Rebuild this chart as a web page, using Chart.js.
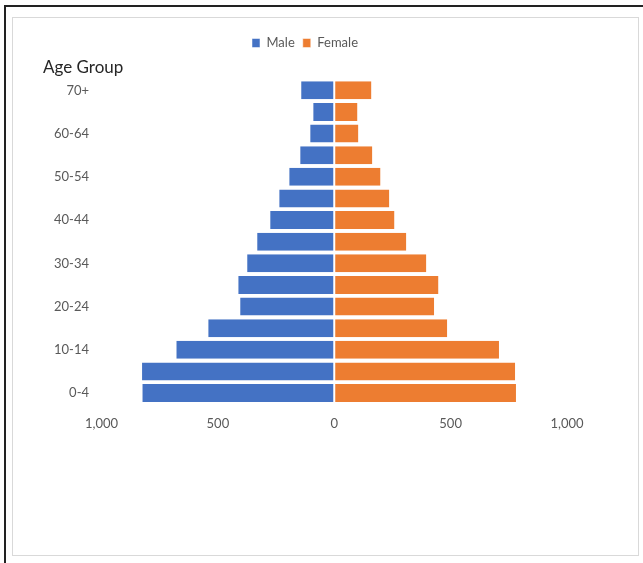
<!DOCTYPE html>
<html>
<head>
<meta charset="utf-8">
<script src="https://cdn.jsdelivr.net/npm/chart.js@4/dist/chart.umd.min.js"></script>
<style>
  html, body { margin: 0; background: #fff; overflow: hidden; }
  #frame { position: absolute; left: 4px; top: 5px; width: 639px; height: 558px;
           border-left: 2px solid #222; border-top: 2px solid #222; }
  #box { position: absolute; left: 12px; top: 17px; width: 625px; height: 537px;
         border: 1px solid #d9d9d9; }
  #wrap { position: absolute; left: 13px; top: 18px; width: 625px; height: 430px; }
</style>
</head>
<body>
<div id="frame"></div>
<div id="box"></div>
<div id="wrap"><canvas id="pyramid"></canvas></div>
<script>
// age groups bottom to top
const ageGroups = ["0-4", "5-9", "10-14", "15-19", "20-24", "25-29", "30-34", "35-39",
                   "40-44", "45-49", "50-54", "55-59", "60-64", "65-69", "70+"];
const male   = [828, 830, 682, 545, 408, 416, 378, 335, 279, 240, 197, 150, 107, 94, 146];
const female = [785, 781, 712, 489, 433, 451, 399, 313, 262, 240, 202, 167, 107, 103, 163];
const xTicks = [-1000, -500, 0, 500, 1000];

const font = "Lato";

new Chart(document.getElementById("pyramid"), {
  type: 'bar',
  data: {
    labels: ageGroups,
    datasets: [{
      label: "Male",
      // male goes to the left
      data: male.map(v => -v),
      backgroundColor: "#4472c4",
      borderColor: "#ffffff",
      borderWidth: {left: 1, right: 1, top: 0, bottom: 0},
      borderSkipped: false
    }, {
      label: "Female",
      data: female,
      backgroundColor: "#ed7d31",
      borderColor: "#ffffff",
      borderWidth: {left: 1, right: 1, top: 0, bottom: 0},
      borderSkipped: false
    }]
  },
  options: {
    indexAxis: 'y',
    responsive: true,
    maintainAspectRatio: false,
    animation: false,
    layout: { padding: {left: 30, right: 71, top: 10.5, bottom: 4.5} },
    scales: {
      x: {
        stacked: true,
        min: -1000,
        max: 1000,
        afterBuildTicks: s => { s.ticks = xTicks.map(v => ({value: v})); },
        grid: { display: false, drawTicks: false },
        border: { display: false },
        ticks: {
          padding: 12,
          color: "#595959",
          font: { family: font, size: 13 },
          callback: v => Math.abs(v).toLocaleString('en-US')
        }
      },
      y: {
        stacked: true,
        reverse: true,
        afterFit: s => { s.width = 58.5; },
        grid: { display: false, drawTicks: false },
        border: { display: false },
        ticks: {
          padding: 12.5,
          autoSkip: false,
          color: "#595959",
          font: { family: font, size: 13 },
          callback: (v, i) => i % 2 === 0 ? ageGroups[i] : ''
        }
      }
    },
    datasets: { bar: { barPercentage: 0.83, categoryPercentage: 1 } },
    plugins: {
      legend: {
        weight: 3000,
        labels: {
          boxWidth: 8,
          boxHeight: 9,
          padding: 8,
          color: "#595959",
          font: { family: font, size: 13 }
        }
      },
      title: {
        display: true,
        text: "Age Group",
        align: 'start',
        color: "#262626",
        padding: {top: 0, bottom: 3},
        font: { family: font, size: 17, weight: 'normal', lineHeight: 1 }
      },
      tooltip: { enabled: false }
    }
  }
});
</script>
</body>
</html>
